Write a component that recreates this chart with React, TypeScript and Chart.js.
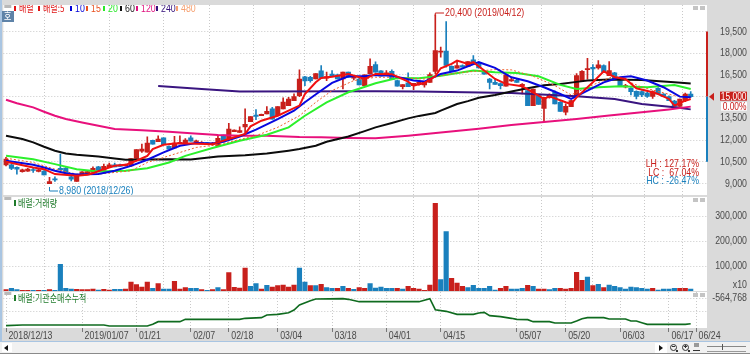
import React, { useEffect, useRef } from "react";
import { Chart, registerables } from "chart.js";

Chart.register(...registerables);

// [open, high, low, close]
const candles: number[][] = [
  [10290,10800,10220,10690],[10290,10330,9950,10040],[10110,10150,9650,9990],[9810,10000,9780,9950],[9850,10050,9830,9990],
  [9950,10110,9760,9900],[9830,9980,9800,9950],[9850,9900,9600,9600],[8980,9420,8980,9140],[9300,9460,9140,9250],
  [10040,11030,9900,9950],[10060,10100,9760,9760],[9460,9530,9180,9300],[9140,9530,9140,9530],[9670,9830,9650,9810],
  [9670,9850,9650,9830],[9760,10150,9760,10040],[10150,10180,9900,9900],[9900,10340,9900,10180],[10150,10410,10150,10290],
  [10290,10410,10150,10150],[10290,10340,10180,10180],[10220,10340,10220,10300],[10220,10730,10180,10730],[10730,11350,10730,11350],
  [11240,11720,11150,11380],[11170,12230,11170,11790],[11980,12000,11720,11720],[11890,12300,11890,12070],[12160,12160,11680,11680],
  [11560,11600,11380,11380],[11450,12250,11450,11790],[11750,12300,11750,11840],[11770,12100,11770,12000],[12160,12300,11930,11930],
  [11840,12000,11840,11950],[11770,11900,11770,11840],[11820,11850,11750,11750],[11700,11840,11650,11790],[11610,12350,11610,12120],
  [12350,12350,11950,11950],[12020,13150,12020,12760],[12580,12700,12580,12690],[12530,12920,12530,12650],[12900,14150,12300,13090],
  [13270,13620,13270,13620],[13730,14100,13410,13640],[13690,13800,13690,13780],[13800,14310,13800,13980],[14150,14260,13450,13450],
  [13690,14310,13690,14310],[14150,14910,14150,14630],[14380,14950,14380,14840],[14720,15190,14720,15000],[15070,16850,15000,16220],
  [16360,16410,15760,16090],[16340,16400,16000,16110],[16220,16600,16220,16590],[16780,17150,16270,16270],[16270,16690,16110,16380],
  [16550,16800,16400,16410],[16500,16550,16220,16220],[16220,16700,15530,16690],[16690,16700,16320,16320],[16270,16420,16150,16410],
  [16220,16260,15810,15810],[15760,16500,15760,16500],[16570,17610,16570,17100],[17220,17400,16690,16690],[16780,16800,16410,16410],
  [16500,16800,16450,16640],[16750,16850,16180,16180],[16110,16140,15720,15720],[15690,15830,15530,15830],[15950,16640,15690,15690],
  [15760,15920,15490,15920],[15830,16000,15800,15990],[15810,16000,15650,15990],[15990,16640,15990,16520],[16750,20650,16570,18190],
  [18070,18420,17720,18120],[18140,20190,17030,17150],[17100,17120,16800,16800],[16960,17490,16960,17150],[17150,17200,17030,17030],
  [17080,17420,17080,17420],[17540,17840,17220,17220],[17260,17300,16980,16980],[16750,16790,16550,16550],[16220,16260,15530,15990],
  [15990,16220,15850,15850],[15900,15950,15530,15760],[15720,16500,15720,16500],[16080,16300,16050,16180],[16130,16250,15990,15990],
  [15760,15900,15180,15850],[15420,15500,14380,14380],[14380,15530,14380,15530],[15070,15070,14470,14470],[14190,14950,13270,14950],
  [14950,15200,14900,15140],[15300,15400,14490,14490],[14610,14660,13980,13980],[13920,14500,13730,14330],[14310,14750,14310,14720],
  [15070,16600,15000,16450],[16110,16800,16110,16750],[16870,17650,16200,16920],[17030,17220,16220,16920],[16980,17490,16900,17190],
  [17150,17190,16690,16690],[16450,17420,16450,16800],[16640,16680,16220,16220],[16110,16150,15720,15720],[15670,15850,15600,15760],
  [15580,15620,15120,15350],[15370,15400,14840,15020],[15350,15400,15000,15120],[15250,15300,14950,15020],[15020,15400,14880,15350],
  [15580,15620,15180,15180],[15180,15220,15020,15020],[15000,15050,14720,14720],[14700,14750,14330,14330],[14330,14840,14330,14840],
  [14720,15250,14650,15180],[15180,15350,14950,15000],
];

// sampled [bar index, price]
const ma5 = [[0,10500],[5,10110],[7,9990],[9,9650],[13,9530],[15,9600],[16,9710],[18,9990],[20,10220],[22,10290],[24,10570],[26,10910],[27,11380],[29,11680],[31,11770],[34,11770],[38,11720],[39,11840],[41,12070],[44,12420],[45,12950],[47,13340],[50,13680],[52,14030],[54,14380],[55,15180],[57,15990],[58,16290],[60,16380],[63,16570],[65,16340],[66,16220],[68,16570],[71,16550],[74,16040],[75,15760],[77,15950],[79,16410],[80,16960],[82,17260],[83,17490],[85,17260],[86,17380],[88,16800],[90,16220],[92,15880],[95,15720],[98,15070],[99,14840],[100,15020],[103,14610],[104,14490],[105,14950],[108,15990],[110,16750],[112,16340],[114,16220],[116,15580],[119,15300],[120,15180],[122,14840],[123,14380],[125,14720],[126,14840]];
const ma10 = [[0,10570],[5,10290],[7,10110],[9,9880],[11,9710],[13,9620],[17,9650],[20,9880],[23,10220],[26,10640],[29,11150],[32,11610],[35,11790],[38,11770],[40,11880],[43,12250],[46,12720],[50,13450],[53,14030],[55,14610],[58,15420],[60,15950],[63,16410],[66,16410],[68,16500],[71,16450],[75,16110],[77,16040],[80,16570],[83,16800],[87,17380],[90,16990],[93,16340],[96,16060],[99,15650],[102,15180],[104,14840],[107,15420],[110,15990],[113,16340],[115,16410],[118,16110],[121,15650],[124,15000],[126,14950]];
const ma15 = [[0,10750],[5,10450],[9,9990],[13,9650],[17,9650],[23,9880],[26,10450],[31,11030],[35,11490],[39,11680],[42,11950],[46,12300],[50,12880],[54,13680],[57,14610],[60,15420],[64,16110],[68,16340],[71,16340],[77,16220],[83,16640],[90,16870],[93,16850],[97,16410],[101,15760],[104,15120],[107,15650],[112,16450],[117,15650],[123,15070],[126,14950]];
const ma20 = [[0,10910],[5,10680],[9,10340],[13,9990],[17,9830],[22,9880],[26,10060],[30,10450],[33,10910],[38,11450],[43,11950],[48,12370],[52,12880],[55,13680],[59,14610],[63,15300],[68,15920],[72,16290],[76,16270],[80,16450],[86,16800],[90,16690],[94,16640],[98,16410],[102,15810],[105,15530],[109,15650],[113,15720],[118,15650],[123,15810],[126,15530]];
const ma60 = [[0,12300],[3,12070],[5,11840],[7,11540],[9,11260],[11,11080],[13,10980],[17,10870],[20,10730],[22,10640],[30,10680],[34,10660],[39,10870],[44,10960],[48,11080],[52,11270],[54,11380],[57,11610],[59,11880],[63,12250],[66,12620],[68,12880],[71,13180],[74,13500],[76,13670],[79,13870],[80,14030],[83,14490],[85,14690],[87,14920],[90,15120],[93,15350],[96,15580],[99,15790],[102,15880],[105,16020],[107,16110],[111,16180],[117,16150],[123,15990],[126,15900]];
const ma120 = [[0,14790],[2,14540],[5,14260],[7,13960],[9,13680],[11,13450],[14,13220],[17,12990],[20,12760],[25,12670],[30,12580],[34,12470],[39,12350],[43,12300],[48,12300],[54,12210],[58,12190],[63,12140],[68,12120],[74,12300],[80,12530],[87,12790],[93,13040],[99,13250],[105,13450],[111,13690],[117,13920],[122,14120],[126,14310]];
const ma240 = [[28,15740],[36,15530],[43,15350],[68,15370],[76,15350],[93,15250],[105,15020],[112,14840],[117,14490],[123,14260],[126,14120]];

const volumes = [5300,10700,5300,2700,2700,2700,2700,2700,5300,2700,106700,10700,8000,6700,5300,5300,8000,4000,6700,4000,6700,6700,8000,36000,25300,16000,36000,10700,29300,8000,8000,38700,8000,13300,10700,10700,5300,2700,5300,13300,5300,73300,14700,12000,92000,18700,29300,8000,22700,16000,21300,24000,16000,24000,92000,36000,21300,21300,26700,13300,10700,10700,18700,10700,6700,13300,10700,29300,12000,16000,10700,10700,10700,8000,18700,10700,8000,2700,24000,350600,45300,237300,50700,32000,18700,13300,22700,10700,10700,18700,4000,10700,18700,8000,8000,10700,22700,18700,8000,8000,5300,10700,10700,8000,10700,74700,42700,56000,21300,26700,13300,24000,18700,13300,8000,16000,13300,10700,8000,10700,4000,8000,8000,10700,10700,10700,8000];
const volumeUp = "RBBRRBRBRBBBBRRRRBRRBBRRRRRBRBBRRRBBRBRBRRRRRBBRBRRRRRBBRBRBBRBRBRRBBBBBRBRRRRRRBBRRRBBBBBBRRBBBRBRRBBRRRRRBRBRBBBBBBBBRBBBBRRB";

// sampled [bar index, cumulative institutional net buying]
const institutional = [[0,-892800],[3,-884800],[18,-884800],[19,-896800],[26,-896800],[27,-876800],[28,-844800],[32,-844800],[33,-816800],[43,-816800],[44,-804800],[47,-796800],[48,-764800],[50,-756800],[52,-736800],[53,-704800],[54,-644800],[56,-592800],[57,-572800],[62,-568800],[63,-576800],[65,-604800],[76,-604800],[78,-568800],[79,-700800],[81,-720800],[83,-756800],[86,-756800],[87,-740800],[88,-732800],[89,-772800],[91,-784800],[93,-804800],[94,-816800],[96,-820800],[97,-844800],[100,-844800],[101,-860800],[104,-860800],[105,-836800],[106,-808800],[107,-796800],[110,-796800],[111,-812800],[114,-812800],[115,-836800],[116,-836800],[117,-856800],[118,-876800],[125,-876800],[126,-868800]];

const tickIndex = [0,14,24,34,41,50,60,70,80,94,103,113,122,127];
const tickDates = ["2018/12/13","2019/01/07","01/21","02/07","02/18","03/04","03/18","04/01","04/15","05/07","05/20","06/03","06/17","06/24"];
const priceTicks = [9000,10500,12000,13500,15000,16500,18000,19500];
const volumeTicks = [100000,200000,300000];
const institutionalTicks = [-564768,-720000];

const lastPrice = 15000, rangeHigh = 19500, rangeLow = 10500;
const NUM = "'Liberation Sans',sans-serif";
const KR = "'Noto Sans CJK KR',sans-serif";
const RED = "#c8201c", BLUE = "#1a80bd", GRID = "#c9c9c9", AXIS_TEXT = "#4a4a4a";
const NUM_FONT = `11px ${NUM}`, KR_FONT = `10px ${KR}`;

const fmt = (v: number) => Math.round(v).toLocaleString("en-US");
const pairs = (a: number[][]) => a.map(([x, y]) => ({ x, y }));

// the reference's bitmap font is narrow: squeeze every text run horizontally
const narrowText = (canvas: HTMLCanvasElement) => {
  const ctx: any = canvas.getContext("2d");
  const orig = ctx.fillText.bind(ctx);
  ctx.fillText = (s: string, x: number, y: number) => {
    ctx.save();
    ctx.translate(x, y);
    ctx.scale(0.8, 1);
    orig(s, 0, 0);
    ctx.restore();
  };
};

const line = (data: number[][], color: string, width: number, order: number, dash: number[] = []) => ({
  type: "line", data: pairs(data), borderColor: color, borderWidth: width, pointRadius: 0, tension: 0,
  borderDash: dash, order,
});

const noPad = (s: any) => { s.paddingTop = 0; s.paddingBottom = 0; s.paddingLeft = 0; s.paddingRight = 0; };

const xScale = (labels: boolean) => ({
  type: "linear", min: -0.5, max: 129, offset: false,
  border: { display: false, dash: [1, 2] },
  afterBuildTicks: (s: any) => { s.ticks = tickIndex.map((value) => ({ value })); },
  afterFit: (s: any) => { s.height = labels ? 15 : 0; noPad(s); },
  grid: { color: GRID, lineWidth: 1, tickBorderDash: [], drawTicks: labels, tickLength: 4, tickColor: "#777" },
  ticks: labels
    ? { display: true, autoSkip: false, maxRotation: 0, minRotation: 0, align: "start", padding: -3, color: AXIS_TEXT,
        font: { family: NUM, size: 11 },
        callback: (v: number) => { const k = tickIndex.indexOf(v); return k >= 0 ? " " + tickDates[k] : ""; } }
    : { display: false },
});

const yScale = (min: number, max: number, ticks: number[], labelled: number[]) => ({
  position: "right", min, max,
  border: { display: false, dash: [1, 2] },
  afterBuildTicks: (s: any) => { s.ticks = ticks.map((value) => ({ value })); },
  afterFit: (s: any) => { s.width = 40; noPad(s); },
  grid: { color: GRID, lineWidth: 1, drawTicks: false },
  ticks: { crossAlign: "far", padding: 0, autoSkip: false, color: AXIS_TEXT, font: { family: NUM, size: 11 },
    callback: (v: number) => (labelled.includes(v) ? fmt(v) : "") },
});

const base = (scales: any) => ({
  responsive: false, animation: false, events: [],
  layout: { autoPadding: false, padding: { left: 3.3, right: 3, top: 0, bottom: 0 } },
  plugins: { legend: { display: false }, tooltip: { enabled: false } },
  scales,
});

const whiteArea = {
  id: "whiteArea",
  beforeDraw(c: any) {
    const { left, top, width, height } = c.chartArea;
    c.ctx.fillStyle = "#fff";
    c.ctx.fillRect(left, top, width, height);
  },
};

const txt = (ctx: any, s: string, x: number, y: number, color: string, font: string, align = "left") => {
  ctx.fillStyle = color; ctx.font = font; ctx.textAlign = align; ctx.textBaseline = "middle";
  ctx.fillText(s, x, y);
};

const panelChrome = (c: any, ctx: any) => {
  const { left, top, right } = c.chartArea;
  ctx.fillStyle = "#b9b9b9";
  ctx.fillRect(left + 1, top, 7, 3);
  ctx.fillStyle = "#c4c4c4";
  ctx.fillRect(right - 14, top + 1, 5, 4);
  ctx.fillRect(right - 7, top + 1, 5, 4);
};

const legendItems = [
  { t: "배렬", c: "#e01515", x: 14 }, { t: "배렬:5", c: "#e01515", x: 38 }, { t: "10", c: "#0000d8", x: 70 },
  { t: "15", c: "#e8501e", x: 86 }, { t: "20", c: "#28e828", x: 103 }, { t: "60", c: "#111111", x: 120 },
  { t: "120", c: "#e0107e", x: 136 }, { t: "240", c: "#34107c", x: 156 }, { t: "480", c: "#f6a070", x: 176 },
];

const mainDecor = {
  id: "mainDecor",
  afterDatasetsDraw(c: any) {
    const ctx = c.ctx, y = c.scales.y, x = c.scales.x;
    ctx.save();
    panelChrome(c, ctx);
    legendItems.forEach((it) => {
      ctx.fillStyle = it.c;
      ctx.fillRect(it.x, 1, 2, 5);
      txt(ctx, it.t, it.x + 5, 3.5, it.c, /[가-힣]/.test(it.t) ? KR_FONT : NUM_FONT);
    });
    // "호" badge
    ctx.fillStyle = "#5f83a8";
    ctx.fillRect(2, 6, 12, 11);
    txt(ctx, "호", 4, 11.5, "#fff", KR_FONT);

    // high / low annotations
    const hx = x.getPixelForValue(79), lx = x.getPixelForValue(8);
    ctx.strokeStyle = RED; ctx.lineWidth = 1;
    ctx.beginPath(); ctx.moveTo(hx, 11); ctx.lineTo(hx, 8); ctx.lineTo(444, 8); ctx.stroke();
    txt(ctx, "20,400 (2019/04/12)", 445, 8, RED, NUM_FONT);
    ctx.strokeStyle = BLUE;
    ctx.beginPath(); ctx.moveTo(lx, 182); ctx.lineTo(lx, 186); ctx.lineTo(58, 186); ctx.stroke();
    txt(ctx, "8,980 (2018/12/26)", 59, 186, BLUE, NUM_FONT);

    txt(ctx, "LH : 127.17%", 699, 159, RED, NUM_FONT, "right");
    txt(ctx, "LC :  67.04%", 699, 168, RED, NUM_FONT, "right");
    txt(ctx, "HC : -26.47%", 699, 176, BLUE, NUM_FONT, "right");

    // range bar and last-price tag
    const py = y.getPixelForValue(lastPrice), hy = y.getPixelForValue(rangeHigh), ly = y.getPixelForValue(rangeLow);
    const rx = c.chartArea.right;
    ctx.fillStyle = RED; ctx.fillRect(rx - 1, hy, 2, py - hy);
    ctx.fillStyle = BLUE; ctx.fillRect(rx - 1, py, 2, ly - py);
    ctx.fillStyle = RED;
    ctx.beginPath(); ctx.moveTo(rx + 2, py); ctx.lineTo(rx + 7, py - 4); ctx.lineTo(rx + 7, py + 4); ctx.closePath(); ctx.fill();
    ctx.fillRect(720, py - 5, 27, 9);
    txt(ctx, fmt(lastPrice), 746.5, py, "#fff", `10.5px ${NUM}`, "right");
    ctx.fillStyle = "#fff"; ctx.fillRect(721, py + 5.5, 26, 8.5);
    txt(ctx, "0.00%", 746.5, py + 10, RED, `10.5px ${NUM}`, "right");
    ctx.restore();
  },
};

const volDecor = {
  id: "volDecor",
  afterDatasetsDraw(c: any) {
    const ctx = c.ctx;
    ctx.save();
    panelChrome(c, ctx);
    ctx.fillStyle = "#1e7a2a"; ctx.fillRect(14, 3, 2, 6);
    txt(ctx, "배렬:거래량", 18, 6, "#1e7a2a", KR_FONT);
    txt(ctx, "x10", 747, 88, AXIS_TEXT, NUM_FONT, "right");
    ctx.restore();
  },
};

const instDecor = {
  id: "instDecor",
  afterDatasetsDraw(c: any) {
    const ctx = c.ctx;
    ctx.save();
    panelChrome(c, ctx);
    ctx.fillStyle = "#1e7a2a"; ctx.fillRect(14, 3, 2, 6);
    txt(ctx, "배렬:기관순매수누적", 18, 6, "#1e7a2a", KR_FONT);
    ctx.restore();
  },
};

const candleColor = (k: number[]) => (k[3] >= k[0] ? RED : BLUE);

export default function App() {
  const a = useRef<HTMLCanvasElement>(null);
  const b = useRef<HTMLCanvasElement>(null);
  const d = useRef<HTMLCanvasElement>(null);

  useEffect(() => {
    [a, b, d].forEach((r) => narrowText(r.current!));
    const barColors = candles.map(candleColor);
    const main = new Chart(a.current!, {
      type: "bar",
      data: {
        datasets: [
          line(ma5, "#f01010", 2, 1),
          line(ma10, "#0808e0", 2, 2),
          line(ma15, "#f0602a", 1, 3, [2, 2]),
          line(ma20, "#2cf02c", 2, 4),
          line(ma60, "#0c0c0c", 2, 5),
          line(ma120, "#e8107c", 2, 6),
          line(ma240, "#3a1580", 2, 7),
          { type: "bar", grouped: false, order: 8, barThickness: 4.5, minBarLength: 1, backgroundColor: barColors,
            data: candles.map((k, x) => ({ x, y: [k[0], k[3]] })) },
          { type: "bar", grouped: false, order: 9, barThickness: 1, backgroundColor: barColors,
            data: candles.map((k, x) => ({ x, y: [k[2], k[1]] })) },
        ],
      } as any,
      options: base({ x: xScale(false), y: yScale(8206, 21330, priceTicks, priceTicks) }) as any,
      plugins: [whiteArea, mainDecor],
    });
    const vol = new Chart(b.current!, {
      type: "bar",
      data: {
        datasets: [{ barThickness: 4.5, data: volumes.map((y, x) => ({ x, y })),
          backgroundColor: volumes.map((_, i) => (volumeUp[i] === "R" ? RED : BLUE)) }],
      } as any,
      options: base({ x: xScale(false), y: yScale(0, 376000, volumeTicks, volumeTicks) }) as any,
      plugins: [whiteArea, volDecor],
    });
    const inst = new Chart(d.current!, {
      type: "line",
      data: { datasets: [line(institutional, "#0f6b1f", 1.6, 1)] } as any,
      options: base({ x: xScale(true), y: yScale(-920768, -488768, institutionalTicks, [-564768]) }) as any,
      plugins: [whiteArea, instDecor],
    });
    return () => { main.destroy(); vol.destroy(); inst.destroy(); };
  }, []);

  const abs = (l: number, t: number, w: number, h: number, bg: string): React.CSSProperties =>
    ({ position: "absolute", left: l, top: t, width: w, height: h, background: bg });

  return (
    <div style={{ position: "absolute", left: 0, top: 0, width: 750, height: 354, background: "#dadada", overflow: "hidden" }}>
      <canvas ref={a} width={750} height={190} style={{ position: "absolute", left: 0, top: 5 }} />
      <canvas ref={b} width={750} height={94} style={{ position: "absolute", left: 0, top: 197 }} />
      <canvas ref={d} width={750} height={51} style={{ position: "absolute", left: 0, top: 292 }} />
      <div style={abs(0, 0, 2, 342, "#a9c5e2")} />
      <div style={abs(0, 341, 750, 1, "#a9c5e2")} />
      <div style={abs(0, 342, 750, 11, "#f1f1f1")} />
      <div style={abs(0, 353, 750, 1, "#8a8a8a")} />
      <div style={abs(2, 343, 10, 9, "#fff")} />
      <div style={{ ...abs(4, 345, 0, 0, "transparent"), borderTop: "3px solid transparent", borderBottom: "3px solid transparent", borderRight: "4px solid #111" }} />
      <div style={abs(655, 343, 12, 10, "#fff")} />
      <div style={{ ...abs(659, 345, 0, 0, "transparent"), borderTop: "3px solid transparent", borderBottom: "3px solid transparent", borderLeft: "4px solid #111" }} />
      <div style={{ ...abs(670, 344, 5, 5, "transparent"), border: "1px solid #333", borderRadius: "50%" }} />
      <div style={abs(672, 346, 3, 1, "#333")} />
      <div style={abs(676, 350, 2, 2, "#333")} />
      <div style={{ ...abs(682, 344, 5, 5, "transparent"), border: "1px solid #333", borderRadius: "50%" }} />
      <div style={abs(684, 346, 3, 1, "#333")} />
      <div style={abs(685, 345, 1, 3, "#333")} />
      <div style={abs(688, 350, 2, 2, "#333")} />
      <div style={abs(694, 343, 5, 4, "#999")} />
      <div style={abs(693, 350, 7, 1, "#333")} />
      <div style={abs(707, 346, 39, 1, "#888")} />
      <div style={abs(707, 351, 39, 1, "#999")} />
      <div style={abs(722, 344, 1, 6, "#555")} />
    </div>
  );
}
